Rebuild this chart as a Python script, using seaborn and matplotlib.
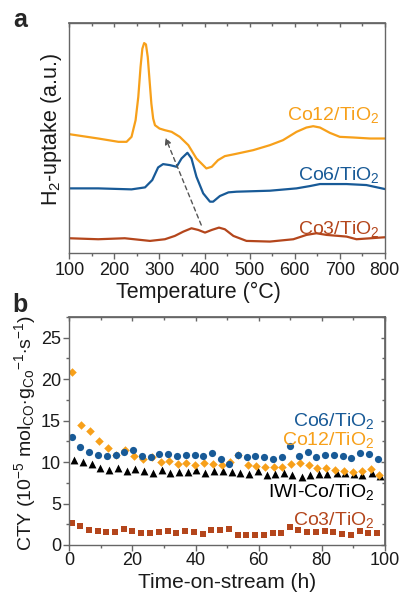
import numpy as np
import pandas as pd
import matplotlib
matplotlib.use("Agg")
import matplotlib.pyplot as plt
from matplotlib.ticker import MultipleLocator
import seaborn as sns

# colours of the samples
C12 = "#F7A01A"
C6 = "#185A97"
C3 = "#B4461C"
SPINE = "#666666"

# --- panel a: H2-TPR profiles (arbitrary units, offset traces) ---
co12_T = [100, 164, 209, 227, 238, 247, 253, 258, 262, 266, 270, 274, 278, 282, 286, 290, 300, 312, 327, 345,
          364, 382, 404, 416, 430, 445, 467, 508, 545, 574, 604, 626, 641, 656, 678, 700, 730, 767, 800]
co12_h = [358, 345, 335, 335, 350, 400, 470, 560, 615, 632, 628, 590, 520, 450, 405, 385, 375, 370, 365, 350,
          325, 285, 255, 260, 280, 292, 298, 310, 325, 340, 365, 378, 382, 378, 362, 350, 348, 345, 345]

co6_T = [100, 164, 238, 268, 284, 297, 308, 323, 338, 349, 362, 371, 382, 397, 412, 419, 434, 453, 471,
         545, 604, 634, 656, 715, 759, 800]
co6_h = [195, 195, 192, 198, 220, 258, 268, 265, 260, 285, 302, 285, 230, 180, 155, 155, 172, 183, 185,
         188, 195, 202, 208, 208, 205, 193]

co3_T = [100, 164, 223, 279, 312, 334, 353, 371, 386, 401, 416, 432, 445, 464, 493, 545, 597, 626, 648,
         671, 715, 737, 800]
co3_h = [45, 42, 45, 37, 42, 52, 65, 75, 70, 62, 70, 77, 72, 52, 37, 35, 42, 55, 60, 55, 50, 42, 48]

# --- panel b: CTY vs time on stream ---
co6_t = [1.0, 3.4, 6.1, 9.0, 11.8, 14.7, 17.4, 20.1, 22.9, 25.8, 28.5, 31.3, 34.0, 36.9, 39.7, 42.5, 45.3, 48.0,
         50.7, 53.3, 56.2, 59.0, 61.8, 64.5, 67.3, 70.0, 72.7, 75.5, 78.3, 81.1, 83.8, 86.6, 89.4, 92.2, 95.0, 97.8]
co6_y = [12.97, 11.8, 11.2, 10.8, 10.7, 10.8, 11.2, 11.4, 10.7, 10.6, 11.0, 11.0, 10.7, 10.8, 10.87, 10.68, 11.15, 10.39,
         9.76, 10.87, 10.56, 10.79, 10.63, 10.36, 10.6, 11.9, 10.79, 11.19, 10.6, 10.8, 10.8, 10.76, 10.47, 11.15, 10.95, 10.39]

co12_t = [0.95, 3.6, 6.5, 9.4, 12.3, 14.9, 17.8, 20.6, 23.4, 26.1, 28.9, 31.7, 34.5, 37.1, 39.9, 42.7, 45.4, 48.3,
          50.9, 53.6, 56.5, 59.3, 62.1, 64.9, 67.5, 70.4, 73.1, 75.8, 78.6, 81.3, 84.2, 87.0, 89.8, 92.6, 95.5, 98.2]
co12_y = [20.9, 14.45, 13.8, 12.55, 11.75, 10.85, 11.45, 10.7, 10.35, 10.55, 9.95, 10.1, 9.8, 9.87, 9.68, 9.88, 9.8, 9.68,
          9.96, 10.8, 9.6, 9.49, 9.45, 9.37, 9.45, 9.77, 9.88, 9.68, 9.29, 9.29, 9.01, 8.97, 8.82, 8.9, 9.13, 8.42]

iwi_t = [1.5, 4.2, 7.1, 9.8, 12.7, 15.4, 18.2, 20.9, 23.7, 26.4, 29.3, 32.0, 34.7, 37.5, 40.3, 43.1, 45.8, 48.6,
         51.4, 54.1, 56.9, 59.7, 62.5, 65.3, 68.0, 70.7, 73.6, 76.3, 79.1, 81.8, 84.7, 87.4, 90.2, 92.9, 95.8, 98.5]
iwi_y = [10.28, 10.03, 9.75, 9.23, 9.08, 9.34, 8.95, 9.21, 8.95, 8.72, 9.08, 8.64, 8.82, 8.84, 9.0, 8.64, 8.88, 8.92,
         8.82, 8.62, 8.54, 8.9, 8.46, 8.58, 8.7, 8.46, 8.19, 8.39, 8.58, 8.5, 8.7, 8.62, 8.5, 8.39, 8.66, 8.27]

co3_t = [0.7, 3.4, 6.1, 9.0, 11.6, 14.5, 17.2, 20.0, 22.8, 25.6, 28.3, 31.2, 33.9, 36.7, 39.4, 42.3, 45.0, 47.8,
         50.5, 53.4, 56.0, 58.9, 61.6, 64.4, 67.2, 70.0, 72.6, 75.4, 78.1, 81.0, 83.7, 86.5, 89.2, 92.1, 94.7, 97.6]
co3_y = [2.65, 2.3, 1.86, 1.72, 1.54, 1.56, 1.95, 1.7, 1.4, 1.42, 1.52, 1.72, 1.4, 1.64, 1.56, 1.38, 1.84, 1.78,
         1.88, 1.24, 1.24, 1.24, 1.17, 1.44, 1.44, 2.14, 1.83, 1.54, 1.58, 1.66, 1.54, 1.34, 1.26, 1.7, 1.5, 1.46]

sns.set_theme(style="white")
plt.rcParams['font.family'] = ['Liberation Sans', 'DejaVu Sans']
plt.rcParams['mathtext.fontset'] = 'custom'
plt.rcParams['mathtext.rm'] = 'Liberation Sans'
plt.rcParams['mathtext.it'] = 'Liberation Sans'

TICK_FS = 13       # tick numbers
LAB_FS = 15.5      # axis titles
SER_FS = 14        # sample names
TXT = '#1a1a1a'

fig = plt.figure(figsize=(4.03, 5.93), dpi=100)
ax1 = fig.add_axes([0.172, 0.573, 0.783, 0.388])
ax2 = fig.add_axes([0.172, 0.081, 0.783, 0.3845])


def style_spines(ax):
    for s in ax.spines.values():
        s.set_visible(True)
        s.set_color(SPINE)
        s.set_linewidth(1.0)


# ---------- panel a ----------
for T, h, c in [(co12_T, co12_h, C12), (co6_T, co6_h, C6), (co3_T, co3_h, C3)]:
    sns.lineplot(x=T, y=h, ax=ax1, color=c, lw=1.6, sort=False)

ax1.annotate("", xy=(311, 355), xytext=(395, 77),
             arrowprops=dict(arrowstyle="-|>", ls=(0, (3, 2.5)), color="#555555", lw=1.0,
                             mutation_scale=9))

ax1.set_xlim(100, 800)
ax1.set_ylim(0, 692)
ax1.set_yticks([])
ax1.xaxis.set_major_locator(MultipleLocator(100))
ax1.xaxis.set_minor_locator(MultipleLocator(50))
ax1.tick_params(axis='x', which='both', direction='out', bottom=True, colors=SPINE,
                labelcolor=TXT, labelsize=TICK_FS, width=1.0, pad=2)
ax1.tick_params(axis='x', which='major', length=4)
ax1.tick_params(axis='x', which='minor', length=2.5)
top1 = ax1.secondary_xaxis('top')
top1.xaxis.set_major_locator(MultipleLocator(100))
top1.xaxis.set_minor_locator(MultipleLocator(50))
top1.tick_params(which='both', direction='in', labeltop=False, colors=SPINE, width=1.0)
top1.tick_params(which='major', length=3)
top1.tick_params(which='minor', length=2)
top1.spines['top'].set_color(SPINE)
style_spines(ax1)
ax1.set_xlabel("Temperature (°C)", fontsize=LAB_FS, color=TXT)
ax1.xaxis.set_label_coords(0.41, -0.17)
ax1.xaxis.label.set_verticalalignment('center')
ax1.set_ylabel("H$_2$-uptake (a.u.)", fontsize=LAB_FS, color=TXT)
ax1.yaxis.set_label_coords(-0.055, 0.54)
ax1.yaxis.label.set_verticalalignment('center')

ax1.text(789, 415, "Co12/TiO$_2$", color=C12, fontsize=SER_FS, ha='right', va='center')
ax1.text(789, 235, "Co6/TiO$_2$", color=C6, fontsize=SER_FS, ha='right', va='center')
ax1.text(789, 72, "Co3/TiO$_2$", color=C3, fontsize=SER_FS, ha='right', va='center')

# ---------- panel b ----------
sns.scatterplot(x=co3_t, y=co3_y, ax=ax2, marker='s', s=20, color=C3, linewidth=0)
sns.scatterplot(x=iwi_t, y=iwi_y, ax=ax2, marker='^', s=32, color='black', linewidth=0)
sns.scatterplot(x=co12_t, y=co12_y, ax=ax2, marker='D', s=19, color=C12, linewidth=0)
sns.scatterplot(x=co6_t, y=co6_y, ax=ax2, marker='o', s=27, color=C6, linewidth=0)

ax2.set_xlim(0, 100)
ax2.set_ylim(0, 27.5)
ax2.xaxis.set_major_locator(MultipleLocator(20))
ax2.xaxis.set_minor_locator(MultipleLocator(10))
ax2.yaxis.set_major_locator(MultipleLocator(5))
ax2.yaxis.set_minor_locator(MultipleLocator(2.5))
ax2.tick_params(which='both', direction='out', bottom=True, left=True, colors=SPINE,
                labelcolor=TXT, labelsize=TICK_FS, width=1.0, pad=2)
ax2.tick_params(axis='x', which='both', pad=1)
ax2.tick_params(which='major', length=4)
ax2.tick_params(which='minor', length=2.5)
top2 = ax2.secondary_xaxis('top')
top2.xaxis.set_major_locator(MultipleLocator(20))
top2.xaxis.set_minor_locator(MultipleLocator(10))
right2 = ax2.secondary_yaxis('right')
right2.yaxis.set_major_locator(MultipleLocator(5))
right2.yaxis.set_minor_locator(MultipleLocator(2.5))
top2.tick_params(which='both', direction='in', labeltop=False, colors=SPINE, width=1.0)
right2.tick_params(which='both', direction='in', labelright=False, colors=SPINE, width=1.0)
for a in (top2, right2):
    a.tick_params(which='major', length=3)
    a.tick_params(which='minor', length=2)
top2.spines['top'].set_color(SPINE)
right2.spines['right'].set_color(SPINE)
style_spines(ax2)
ax2.set_xlabel("Time-on-stream (h)", fontsize=15, color=TXT)
ax2.xaxis.set_label_coords(0.5, -0.163)
ax2.xaxis.label.set_verticalalignment('center')
ax2.set_ylabel("CTY (10$^{-5}$ mol$_{\\mathregular{CO}}$$\\cdot$g$_{\\mathregular{Co}}$$^{-1}$$\\cdot$s$^{-1}$)",
               fontsize=14, color=TXT)
ax2.yaxis.set_label_coords(-0.14, 0.49)
ax2.yaxis.label.set_verticalalignment('center')

ax2.text(96.8, 14.9, "Co6/TiO$_2$", color=C6, fontsize=SER_FS, ha='right', va='center')
ax2.text(96.8, 12.6, "Co12/TiO$_2$", color=C12, fontsize=SER_FS, ha='right', va='center')
ax2.text(96.8, 6.4, "IWI-Co/TiO$_2$", color='black', fontsize=SER_FS, ha='right', va='center')
ax2.text(96.8, 3.0, "Co3/TiO$_2$", color=C3, fontsize=SER_FS, ha='right', va='center')

fig.text(0.05, 0.966, "a", fontsize=18, fontweight='bold', va='center', ha='center')
fig.text(0.05, 0.486, "b", fontsize=18, fontweight='bold', va='center', ha='center')

fig.savefig("out.png", dpi=100)
